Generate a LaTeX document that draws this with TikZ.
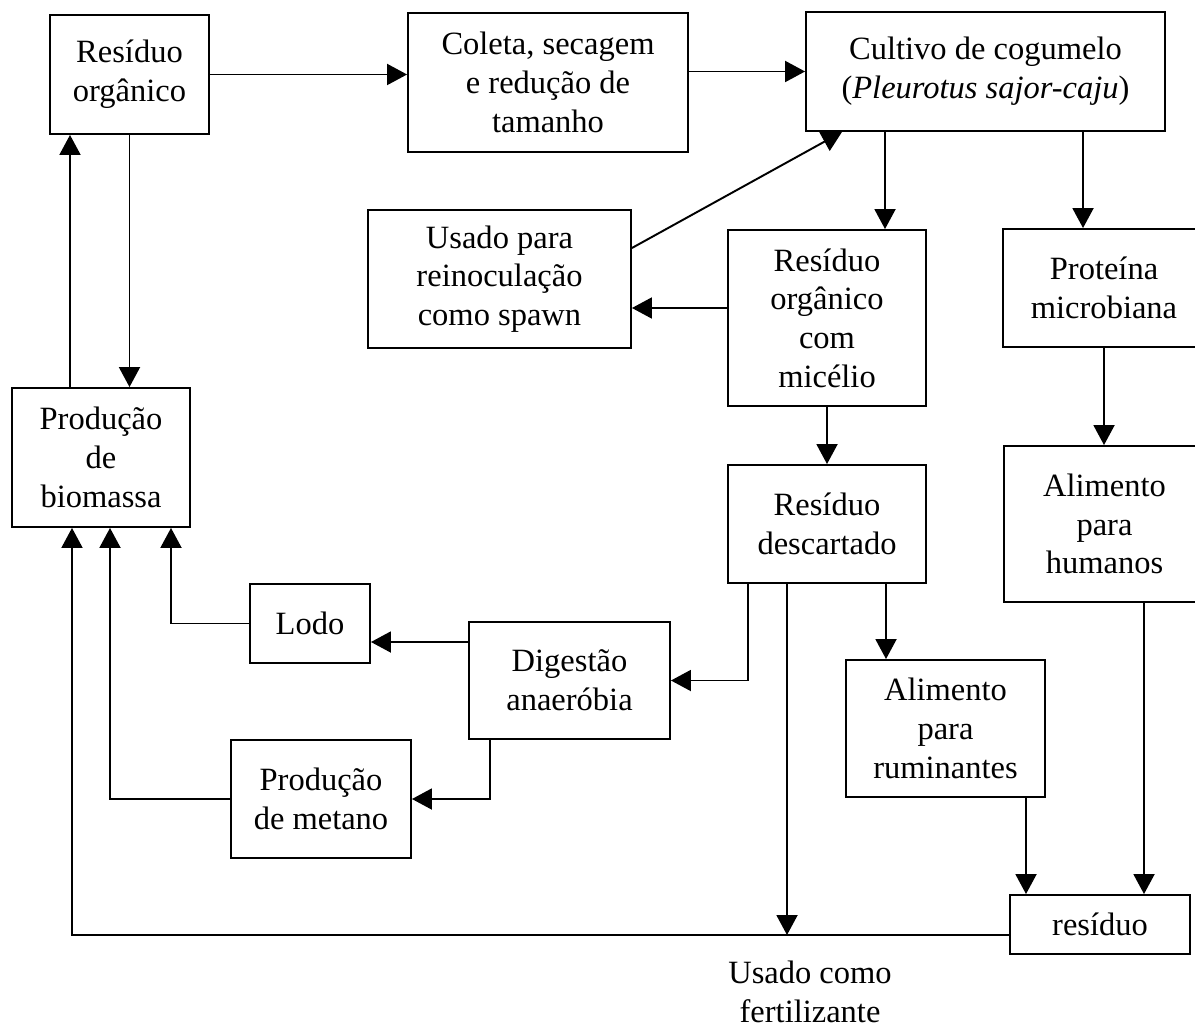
\documentclass[tikz,border=0pt]{standalone}
\usepackage{fontspec}
\setmainfont{Liberation Serif}
\usetikzlibrary{arrows.meta}

\tikzset{
    blk/.style={draw, line width=1.1pt, align=center, inner sep=0pt,
        font=\fontsize{18.5}{22}\selectfont},
    arr/.style={line width=1.1pt, -{Triangle[length=0.4cm,width=0.42cm]}},
    ln/.style={line width=1.1pt}
}

\begin{document}
\begin{tikzpicture}[x=0.02cm,y=-0.02cm]
    \useasboundingbox (0,0) rectangle (1195,1033);

    \node[blk, minimum width=3.18cm, minimum height=2.38cm] (res) at (129.5,74.5) {Resíduo\\orgânico};
    \node[blk, minimum width=5.6cm, minimum height=2.78cm] (coleta) at (548,82.5) {Coleta, secagem\\e redução de\\tamanho};
    \node[blk, minimum width=7.18cm, minimum height=2.38cm] (cultivo) at (985.5,71.5) {Cultivo de cogumelo\\(\textit{Pleurotus sajor-caju})};
    \node[blk, minimum width=5.26cm, minimum height=2.76cm] (spawn) at (499.5,279) {Usado para\\reinoculação\\como spawn};
    \node[blk, minimum width=3.96cm, minimum height=3.52cm] (micelio) at (827,318) {Resíduo\\orgânico\\com\\micélio};
    \node[blk, minimum width=4.04cm, minimum height=2.36cm] (prot) at (1104,288) {Proteína\\microbiana};
    \node[blk, minimum width=3.56cm, minimum height=2.78cm] (bio) at (101,457.5) {Produção\\de\\biomassa};
    \node[blk, minimum width=3.96cm, minimum height=2.36cm] (desc) at (827,524) {Resíduo\\descartado};
    \node[blk, minimum width=4.02cm, minimum height=3.12cm] (hum) at (1104.5,524) {Alimento\\para\\humanos};
    \node[blk, minimum width=2.4cm, minimum height=1.58cm] (lodo) at (310,623.5) {Lodo};
    \node[blk, minimum width=4.02cm, minimum height=2.34cm] (dig) at (569.5,680.5) {Digestão\\anaeróbia};
    \node[blk, minimum width=3.98cm, minimum height=2.74cm] (rum) at (945.5,728.5) {Alimento\\para\\ruminantes};
    \node[blk, minimum width=3.6cm, minimum height=2.36cm] (met) at (321,799) {Produção\\de metano};
    \node[blk, minimum width=3.6cm, minimum height=1.18cm] (resid) at (1100,924.5) {resíduo};
    \node[align=center, font=\fontsize{18.5}{22}\selectfont] (fert) at (810,992) {Usado como\\fertilizante};
    \coordinate (fertend) at (787,935);

    \draw[arr] (res.east) -- (res.east -| coleta.west);
    \draw[arr] (cultivo.west -| coleta.east) -- (cultivo.west);
    \draw[arr] (res.south) -- (res.south |- bio.north);
    \draw[arr] (bio.north -| 70,0) -- (res.south -| 70,0);
    \draw[arr] (spawn.east |- 0,248) -- (cultivo.south -| 842,0);
    \draw[arr] (cultivo.south -| 885,0) -- (micelio.north -| 885,0);
    \draw[arr] (cultivo.south -| 1083,0) -- (prot.north -| 1083,0);
    \draw[arr] (micelio.west |- 0,308) -- (spawn.east |- 0,308);
    \draw[arr] (micelio.south) -- (desc.north);
    \draw[arr] (prot.south -| 1104,0) -- (hum.north -| 1104,0);
    \draw[arr] (desc.south -| 748,0) |- (dig.east);
    \draw[arr] (desc.south -| fertend) -- (fertend);
    \draw[arr] (desc.south -| 886,0) -- (rum.north -| 886,0);
    \draw[arr] (dig.west |- 0,642) -- (lodo.east |- 0,642);
    \draw[arr] (lodo.west) -| (bio.south -| 171,0);
    \draw[arr] (dig.south -| 490,0) |- (met.east);
    \draw[arr] (met.west) -| (bio.south -| 110,0);
    \draw[arr] (resid.west |- fertend) -| (bio.south -| 72,0);
    \draw[arr] (rum.south -| 1026,0) -- (resid.north -| 1026,0);
    \draw[arr] (hum.south -| 1144,0) -- (resid.north -| 1144,0);
\end{tikzpicture}
\end{document}
